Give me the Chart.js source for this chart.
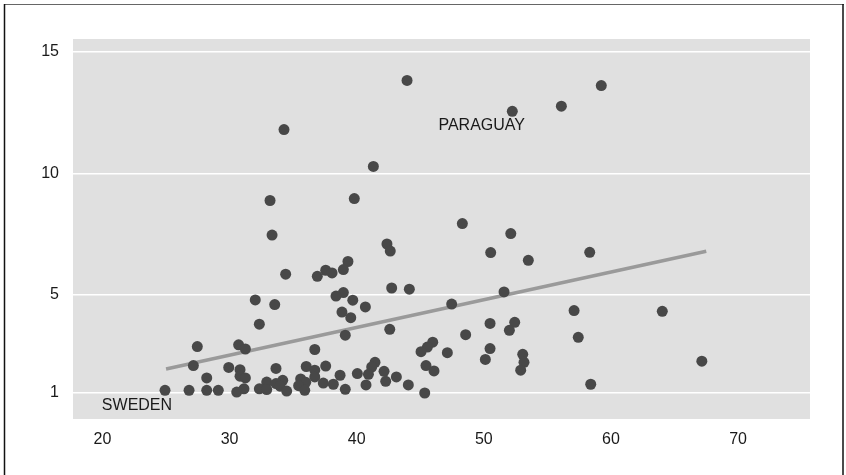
<!DOCTYPE html>
<html>
<head>
<meta charset="utf-8">
<script src="https://cdn.jsdelivr.net/npm/chart.js@4/dist/chart.umd.min.js"></script>
<style>
  html, body { margin: 0; padding: 0; background: #fff; }
  #wrap { position: relative; width: 846px; height: 475px; }
</style>
</head>
<body>
<div id="wrap"><canvas id="scatter" width="846" height="475"></canvas></div>
<script>
// --- data ---
const pointX = [43.96, 59.24, 56.10, 52.24, 34.28, 41.31, 33.18, 39.81, 48.31, 52.12,
  33.34, 42.38, 42.64, 50.54, 58.33, 53.50, 39.31, 38.95, 37.56, 38.06,
  34.41, 36.90, 42.75, 44.14, 51.59, 38.95, 38.37, 32.02, 39.69, 47.47,
  33.55, 40.68, 57.10, 64.04, 38.84, 39.53, 52.43, 50.49, 32.34, 42.60,
  52.01, 48.57, 39.10, 57.43, 45.98, 30.71, 27.46, 45.56, 50.49, 31.24,
  36.70, 45.06, 47.13, 53.06, 50.12, 67.15, 41.44, 53.16, 27.15, 45.45,
  37.56, 36.03, 41.18, 29.93, 33.65, 30.82, 36.70, 52.90, 46.08, 42.15,
  40.05, 40.92, 38.69, 30.82, 36.70, 43.12, 28.20, 31.24, 35.59, 34.18,
  42.28, 32.92, 35.99, 37.37, 33.65, 38.16, 58.41, 40.73, 44.06, 35.43,
  33.97, 31.13, 32.34, 39.10, 32.92, 24.92, 26.81, 28.20, 29.11, 35.91,
  34.49, 30.56, 45.35];
const pointY = [13.83, 13.62, 12.77, 12.56, 11.81, 10.29, 8.89, 8.97, 7.94, 7.53,
  7.47, 7.10, 6.81, 6.75, 6.76, 6.43, 6.38, 6.05, 6.02, 5.91,
  5.86, 5.77, 5.29, 5.24, 5.13, 5.10, 4.96, 4.80, 4.79, 4.63,
  4.61, 4.51, 4.36, 4.33, 4.30, 4.07, 3.88, 3.83, 3.80, 3.59,
  3.55, 3.37, 3.35, 3.26, 3.06, 2.95, 2.88, 2.86, 2.80, 2.78,
  2.76, 2.67, 2.63, 2.56, 2.35, 2.28, 2.23, 2.23, 2.10, 2.10,
  2.08, 2.06, 2.04, 2.02, 1.98, 1.93, 1.91, 1.91, 1.88, 1.86,
  1.77, 1.74, 1.70, 1.66, 1.63, 1.63, 1.59, 1.59, 1.55, 1.49,
  1.45, 1.42, 1.41, 1.38, 1.36, 1.33, 1.33, 1.30, 1.30, 1.27,
  1.25, 1.14, 1.14, 1.12, 1.11, 1.08, 1.08, 1.08, 1.08, 1.08,
  1.05, 1.01, 0.97];

// fitted trend line, end points
const trendX = [25.0, 67.5];
const trendY = [1.96, 6.80];

const xTicks = [20, 30, 40, 50, 60, 70];
const yTicks = [1, 5, 10, 15];

// annotated countries
const labelNames = ["SWEDEN", "PARAGUAY"];
const labelX = [19.95, 46.43];
const labelY = [0.44, 11.99];

const FONT = "'Liberation Sans', Arial, sans-serif";

// plot panel background + outer frame + country labels
const panelPlugin = {
    id: "panel",
    beforeDraw(chart) {
        const { ctx, chartArea: a } = chart;
        ctx.save();
        ctx.fillStyle = "#e0e0e0";
        ctx.fillRect(a.left, a.top, a.right - a.left, a.bottom - a.top);
        ctx.restore();
    },
    afterDraw(chart) {
        const { ctx } = chart;
        const xs = chart.scales.x, ys = chart.scales.y;
        ctx.save();
        ctx.font = "16px " + FONT;
        ctx.fillStyle = "#1a1a1a";
        ctx.textBaseline = "middle";
        ctx.textAlign = "left";
        labelNames.forEach((name, i) => {
            ctx.fillText(name, xs.getPixelForValue(labelX[i]), ys.getPixelForValue(labelY[i]));
        });
        // outer frame
        ctx.strokeStyle = "#666";
        ctx.lineWidth = 1;
        ctx.beginPath();
        ctx.moveTo(4, 4.5); ctx.lineTo(844, 4.5);
        ctx.stroke();
        ctx.strokeStyle = "#111";
        ctx.lineWidth = 1.5;
        ctx.beginPath();
        ctx.moveTo(4.5, 4); ctx.lineTo(4.5, 475);
        ctx.moveTo(843, 4); ctx.lineTo(843, 475);
        ctx.stroke();
        ctx.restore();
    }
};

const scatterPoints = pointX.map((x, i) => ({ x: x, y: pointY[i] }));
const trendPoints = trendX.map((x, i) => ({ x: x, y: trendY[i] }));

new Chart(document.getElementById("scatter").getContext("2d"), {
    type: "scatter",
    data: {
        datasets: [
            {
                label: "countries",
                data: scatterPoints,
                backgroundColor: "#484848",
                borderWidth: 0,
                pointRadius: 5.5,
                order: 1
            },
            {
                type: "line",
                label: "trend",
                data: trendPoints,
                borderColor: "#9a9a9a",
                borderWidth: 3.5,
                pointRadius: 0,
                fill: false,
                order: 2
            }
        ]
    },
    options: {
        responsive: false,
        animation: false,
        layout: { padding: { top: 39, right: 36, left: 0, bottom: 0 } },
        plugins: {
            legend: { display: false },
            tooltip: { enabled: false }
        },
        scales: {
            x: {
                type: "linear",
                min: 17.68,
                max: 75.66,
                afterBuildTicks: (s) => { s.ticks = xTicks.map(v => ({ value: v })); },
                afterFit: (s) => { s.height = 56; },
                grid: { display: false, drawTicks: false },
                border: { display: false },
                ticks: { color: "#1a1a1a", padding: 11, font: { family: FONT, size: 16 } }
            },
            y: {
                type: "linear",
                min: -0.10,
                max: 15.535,
                afterBuildTicks: (s) => { s.ticks = yTicks.map(v => ({ value: v })); },
                afterFit: (s) => { s.width = 73; },
                grid: { color: "#ffffff", lineWidth: 1.5, drawTicks: false },
                border: { display: false },
                ticks: { color: "#1a1a1a", padding: 14, font: { family: FONT, size: 16 } }
            }
        }
    },
    plugins: [panelPlugin]
});
</script>
</body>
</html>
